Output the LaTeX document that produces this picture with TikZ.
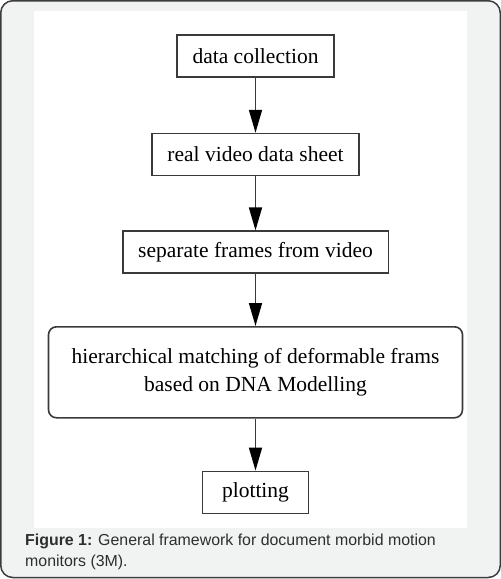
\documentclass[tikz,border=0pt]{standalone}
\usepackage{fontspec}
\setmainfont{Liberation Serif}
\newfontfamily\capfont{Liberation Sans}
\usetikzlibrary{positioning, arrows.meta}
\definecolor{panelgray}{HTML}{F1F2F2}
\definecolor{framegray}{HTML}{3C3C3C}
\definecolor{captext}{HTML}{2E2E2E}
\definecolor{linegray}{HTML}{3A3A3A}

\begin{document}
\begin{tikzpicture}[x=1pt, y=-1pt,
    stage/.style={draw=linegray, line width=1.6pt, rectangle, minimum height=42pt,
        inner xsep=15.5pt, font=\fontsize{21.5}{28}\selectfont},
    flow/.style={-{Triangle[width=13pt,length=23pt,color=black]}, line width=1.6pt, draw=linegray},
    node distance=55pt]
    \useasboundingbox (0,0) rectangle (501,579);
    % panel and white drawing area
    \draw[framegray, line width=1.5pt, fill=panelgray, rounded corners=12pt]
        (0.75,0.75) rectangle (500.25,577.5);
    \fill[white] (34,11) rectangle (467,528);
    % stages
    \node (collect) [stage] at (255.5,56) {data collection};
    \node (sheet) [stage, below=55pt of collect] {real video data sheet};
    \node (frames) [stage, below=54pt of sheet] {separate frames from video};
    \node (match) [stage, below=52pt of frames, rounded corners=8pt, minimum height=91pt,
        align=center, minimum width=414pt] {hierarchical matching of deformable frams\\based on DNA Modelling};
    \node (plot) [stage, below=52pt of match, minimum width=106pt] {plotting};
    \foreach \a/\b in {collect/sheet, sheet/frames, frames/match, match/plot}
        \draw[flow] (\a) -- (\b);
    % caption
    \node (caption) [anchor=base west, inner sep=0pt, align=left, text=captext,
        font=\capfont\fontsize{15.9}{20.5}\selectfont] at (25,566)
        {\textbf{Figure 1:} General framework for document morbid motion\\monitors (3M).};
\end{tikzpicture}
\end{document}
